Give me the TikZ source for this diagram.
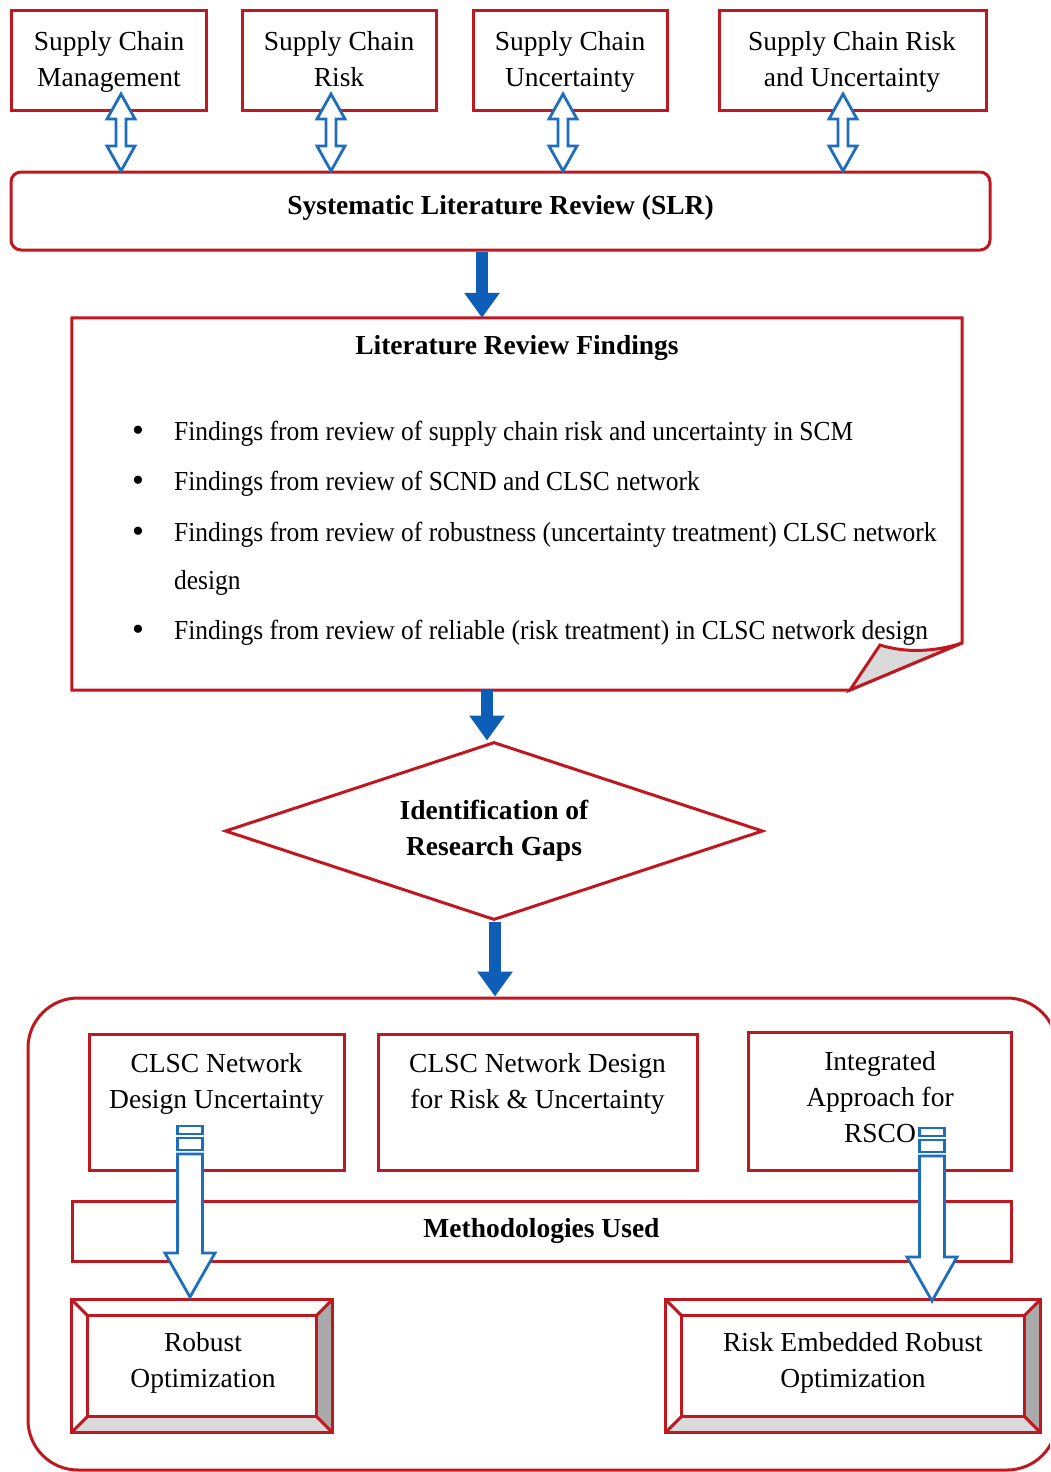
\documentclass[tikz,border=0pt]{standalone}
\usepackage{fontspec}
\setmainfont{Liberation Serif}
\newfontfamily\condserif[FakeStretch=0.926]{Liberation Serif}
\usetikzlibrary{shapes.geometric,arrows.meta,calc}
\definecolor{boxred}{RGB}{192,24,32}
\definecolor{arrblue}{RGB}{30,110,190}
\definecolor{solidblue}{RGB}{14,94,184}
\definecolor{bevdark}{RGB}{170,170,170}
\definecolor{bevlight}{RGB}{218,218,218}

% hollow double-headed arrow between a top box and the review box
\newcommand\twinarrow[3]{% x, top tip, bottom tip
  \draw[hollow] (#1,#2) -- (#1+14,#2+25) -- (#1+5,#2+25) -- (#1+5,#3-25)
    -- (#1+14,#3-25) -- (#1,#3) -- (#1-14,#3-25) -- (#1-5,#3-25)
    -- (#1-5,#2+25) -- (#1-14,#2+25) -- cycle;}

% hollow striped down arrow
\newcommand\stripearrow[3]{% x, top, tip
  \draw[hollow] (#1-12.5,#2+28) -- (#1-12.5,#3-44) -- (#1-25,#3-44) -- (#1,#3)
    -- (#1+25,#3-44) -- (#1+12.5,#3-44) -- (#1+12.5,#2+28) -- cycle;
  \draw[hollow] (#1-12.5,#2) rectangle (#1+12.5,#2+8);
  \draw[hollow] (#1-12.5,#2+12) rectangle (#1+12.5,#2+24);}

% bevelled frame around a named node
\newcommand\bevel[2]{% node name, inset
  \fill[bevdark] (#1.north east) -- (#1.south east) -- ([shift={(-#2,-#2)}]#1.south east)
    -- ([shift={(-#2,#2)}]#1.north east) -- cycle;
  \fill[bevlight] (#1.south west) -- (#1.south east) -- ([shift={(-#2,-#2)}]#1.south east)
    -- ([shift={(#2,-#2)}]#1.south west) -- cycle;
  \draw[redline] (#1.north west) rectangle (#1.south east);
  \draw[redline] ([shift={(#2,#2)}]#1.north west) rectangle ([shift={(-#2,-#2)}]#1.south east);
  \draw[redline] (#1.north west) -- ([shift={(#2,#2)}]#1.north west);
  \draw[redline] (#1.north east) -- ([shift={(-#2,#2)}]#1.north east);
  \draw[redline] (#1.south east) -- ([shift={(-#2,-#2)}]#1.south east);
  \draw[redline] (#1.south west) -- ([shift={(#2,-#2)}]#1.south west);}

\begin{document}
\begin{tikzpicture}[x=1pt,y=-1pt,
  txt/.style={font=\fontsize{27.5}{36}\selectfont},
  ctxt/.style={font=\condserif\fontsize{27.5}{36}\selectfont},
  btxt/.style={font=\fontsize{27.5}{36}\selectfont\bfseries},
  redline/.style={draw=boxred, line width=3pt, line join=miter},
  redbox/.style={redline, fill=white, inner sep=0pt, align=center, txt},
  plainbox/.style={redline, fill=white, inner sep=0pt},
  hollow/.style={draw=arrblue, line width=2.8pt, fill=white, line join=miter},
  solidarrow/.style={draw=solidblue, line width=12pt, -{Triangle[width=34pt,length=25pt]}},
  ]
\clip (0,0) rectangle (1050,1472);
\fill[white] (0,0) rectangle (1050,1472);

% topic boxes
\node[redbox, minimum width=195pt, minimum height=99pt] (scm)  at (108.5,60.5) {};
\node[redbox, minimum width=194pt, minimum height=99pt] (scr)  at (339,60.5)   {};
\node[redbox, minimum width=194pt, minimum height=99pt] (scu)  at (570,60.5)   {};
\node[redbox, minimum width=267pt, minimum height=99pt] (scru) at (852.5,60.5) {};
\node[txt, align=center] (scmt)  at (109,61) {Supply Chain\strut\\Management\strut};
\node[txt, align=center] (scrt)  at (339,61) {Supply Chain\strut\\Risk\strut};
\node[txt, align=center] (scut)  at (570,61) {Supply Chain\strut\\Uncertainty\strut};
\node[txt, align=center] (scrut) at (852,61) {Supply Chain Risk\strut\\and Uncertainty\strut};

% systematic review
\node[redbox, rounded corners=10pt, minimum width=979pt, minimum height=78pt] (slr) at (500.5,211) {};
\node[btxt] (slrt) at (500.5,208) {Systematic Literature Review (SLR)};

\twinarrow{121}{94}{171}
\twinarrow{331}{94}{171}
\twinarrow{563}{94}{171}
\twinarrow{843}{94}{171}

% findings page with curled corner
\node[inner sep=0pt, minimum width=890pt, minimum height=372pt] (lrf) at (517,504) {};
\draw[redline] (lrf.south west) -- (lrf.north west) -- (lrf.north east) -- (962,643) -- (850,690) -- cycle;
\draw[redline, fill=bevlight] (850,690) -- (880,645) .. controls (905,653) and (935,652) .. (962,643) -- cycle;

\node[btxt] (lrft) at (517,348) {Literature Review Findings};
\foreach \yy/\tt in {432/{Findings from review of supply chain risk and uncertainty in SCM},
                     482/{Findings from review of SCND and CLSC network},
                     533/{Findings from review of robustness (uncertainty treatment) CLSC network},
                     631/{Findings from review of reliable (risk treatment) in CLSC network design}}{
  \node[font=\fontsize{34}{36}\selectfont] (b\yy) at (138,\yy+2) {•};
  \node[ctxt, anchor=west, inner sep=0pt] (f\yy) at (174,\yy+2) {\tt};
}
\node[ctxt, anchor=west, inner sep=0pt] (f581) at (174,583) {design};

% research gaps
\node[diamond, aspect=3.02, redline, fill=white, inner sep=0pt, minimum width=538pt, minimum height=178pt,
      align=center, btxt] (gap) at (494,831) {Identification of\\Research Gaps};

% outer frame of the methodology part
\node[redline, rounded corners=50pt, inner sep=0pt, minimum width=1029pt, minimum height=472pt] (meth) at (542.5,1234) {};

\coordinate (c1) at (482,0);
\coordinate (c2) at (487,0);
\coordinate (c3) at (495,0);
\draw[solidarrow] (c1 |- slr.south) -- (c1 |- lrf.north);
\draw[solidarrow] (c2 |- lrf.south) -- (c2 |- gap.north);
\draw[solidarrow] (c3 |- gap.south) -- (c3 |- meth.north);

% design approaches
\node[plainbox, minimum width=255pt, minimum height=136pt] (cnu) at (216.5,1102) {};
\node[txt, align=center] (cnut) at (216.5,1084) {CLSC Network\\Design Uncertainty};
\node[plainbox, minimum width=319pt, minimum height=136pt] (cnd) at (537.5,1102) {};
\node[txt, align=center] (cndt) at (537.5,1084) {CLSC Network Design\\for Risk \& Uncertainty};
\node[plainbox, minimum width=263pt, minimum height=138pt] (ia) at (879.5,1101) {};
\node[txt, align=center] (iat) at (880,1097) {Integrated\\Approach for\\RSCO};

\node[redbox, btxt, minimum width=939pt, minimum height=60pt] (mu) at (541.5,1231) {Methodologies Used};

% optimisation methods
\node[inner sep=0pt, minimum width=260pt, minimum height=132pt] (rob) at (202,1366) {};
\bevel{rob}{16}
\node[txt, align=center] (robt) at (203,1363) {Robust\\Optimization};
\node[inner sep=0pt, minimum width=374pt, minimum height=132pt] (reo) at (853,1366) {};
\bevel{reo}{16}
\node[txt, align=center] (reot) at (853,1363) {Risk Embedded Robust\\Optimization};

\stripearrow{190}{1126}{1297}
\stripearrow{932}{1128}{1301}
\end{tikzpicture}
\end{document}
